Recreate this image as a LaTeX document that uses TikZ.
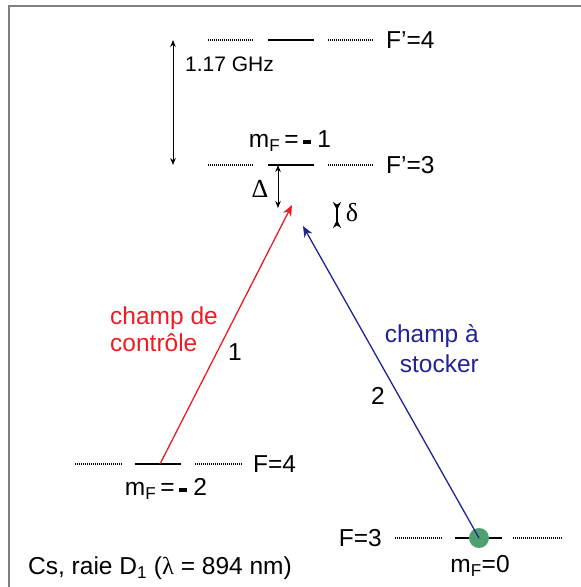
\documentclass[tikz,border=0pt]{standalone}
\usepackage{fontspec}
\setmainfont{Liberation Sans}
\newfontfamily\grec{Liberation Serif}
\usetikzlibrary{arrows.meta}
\definecolor{rougectrl}{RGB}{237,28,36}
\definecolor{bleustock}{RGB}{35,35,145}
\definecolor{vertatome}{RGB}{78,160,112}
\newcommand{\mF}{m\textsubscript{F}}
\newcommand{\moins}{\rule[0.27ex]{0.32em}{0.17em}}
\begin{document}
\begin{tikzpicture}[x=1pt,y=-1pt,
    niveau/.style={line width=1.4pt},
    pointille/.style={line width=1.3pt, dash pattern=on 0.9pt off 1.1pt},
    txt/.style={font=\fontsize{24.5}{27}\selectfont, inner sep=0pt},
    fleche/.style={-{Stealth[length=11pt,width=9pt]}, line width=1.3pt},
    ecart/.style={{Stealth[length=7pt,width=5.5pt]}-{Stealth[length=7pt,width=5.5pt]}, line width=0.9pt}]
    \useasboundingbox (0,0) rectangle (581,587);

    % Cadre
    \draw[gray, line width=2pt] (9,587) -- (9,6) -- (581,6);

    % Hauteurs des niveaux
    \def\yFq{40}   % F'=4
    \def\yFt{165}  % F'=3
    \def\yFf{464}  % F=4
    \def\yFg{538}  % F=3

    % Niveaux excites F'=4 et F'=3
    \foreach \y in {\yFq, \yFt} {
        \draw[pointille] (208,\y) -- (253,\y);
        \draw[niveau] (268,\y) -- (314,\y);
        \draw[pointille] (328,\y) -- (373,\y);
    }
    \coordinate (mt) at (278,\yFt);
    \node[txt, anchor=west] (Fq) at (386,\yFq) {F'=4};
    \node[txt, anchor=west] (Ft) at (386,\yFt) {F'=3};
    \node[txt] (mFt) at (290,141) {\mF\,=\,\moins\;1};

    % Niveau fondamental F=4
    \draw[pointille] (75,\yFf) -- (122,\yFf);
    \draw[niveau] (135,\yFf) -- (181,\yFf);
    \draw[pointille] (195,\yFf) -- (242,\yFf);
    \coordinate (mf) at (160,\yFf);
    \node[txt, anchor=west] (Ff) at (253,\yFf) {F=4};
    \node[txt] (mFf) at (166,489) {\mF\,=\,\moins\;2};

    % Niveau fondamental F=3
    \draw[pointille] (395,\yFg) -- (442,\yFg);
    \draw[niveau] (455,\yFg) -- (502,\yFg);
    \draw[pointille] (513,\yFg) -- (562,\yFg);
    \node[txt, anchor=east] (Fg) at (382,\yFg) {F=3};
    \node[circle, fill=vertatome, minimum size=20pt, inner sep=0pt] (atome) at (479,\yFg) {};
    \node[txt] (mFg) at (480,566) {\mF=0};

    % Ecart hyperfin
    \coordinate (hq) at (173,\yFq);
    \coordinate (ht) at (173,\yFt);
    \draw[ecart] (hq) -- (ht);
    \node[txt, font=\fontsize{21}{24}\selectfont, anchor=west] (ghz) at (185,64) {1.17 GHz};

    % Desaccords
    \coordinate (delta) at (278,208);
    \draw[ecart] (mt) -- (delta);
    \node[txt, font=\grec\fontsize{26}{28}\selectfont] (Delta) at (260,189) {Δ};
    \coordinate (dh) at (337,202);
    \coordinate (db) at (337,228);
    \draw[{Stealth[length=8pt,width=8pt,reversed]}-{Stealth[length=8pt,width=8pt,reversed]}, line width=1.1pt] (dh) -- (db);
    \node[txt, font=\grec\fontsize{26}{28}\selectfont] (petitdelta) at (352,213) {δ};

    % Champs
    \coordinate (ctrl) at (292,205);
    \coordinate (stock) at (303,226);
    \draw[fleche, rougectrl] (mf) -- (ctrl);
    \draw[fleche, bleustock] (atome.center) -- (stock);
    \node[txt, rougectrl, align=left, anchor=north west] (champctrl) at (110,307) {champ de\\contrôle};
    \node[txt, bleustock, align=right, anchor=north east] (champstock) at (479,324) {champ à\\[3pt]stocker};
    \node[txt] (un) at (235,352) {1};
    \node[txt] (deux) at (378,396) {2};

    % Legende
    \node[txt, anchor=west] (legende) at (28,568) {Cs, raie D\textsubscript{1} ({\grec λ} = 894 nm)};

\end{tikzpicture}
\end{document}
